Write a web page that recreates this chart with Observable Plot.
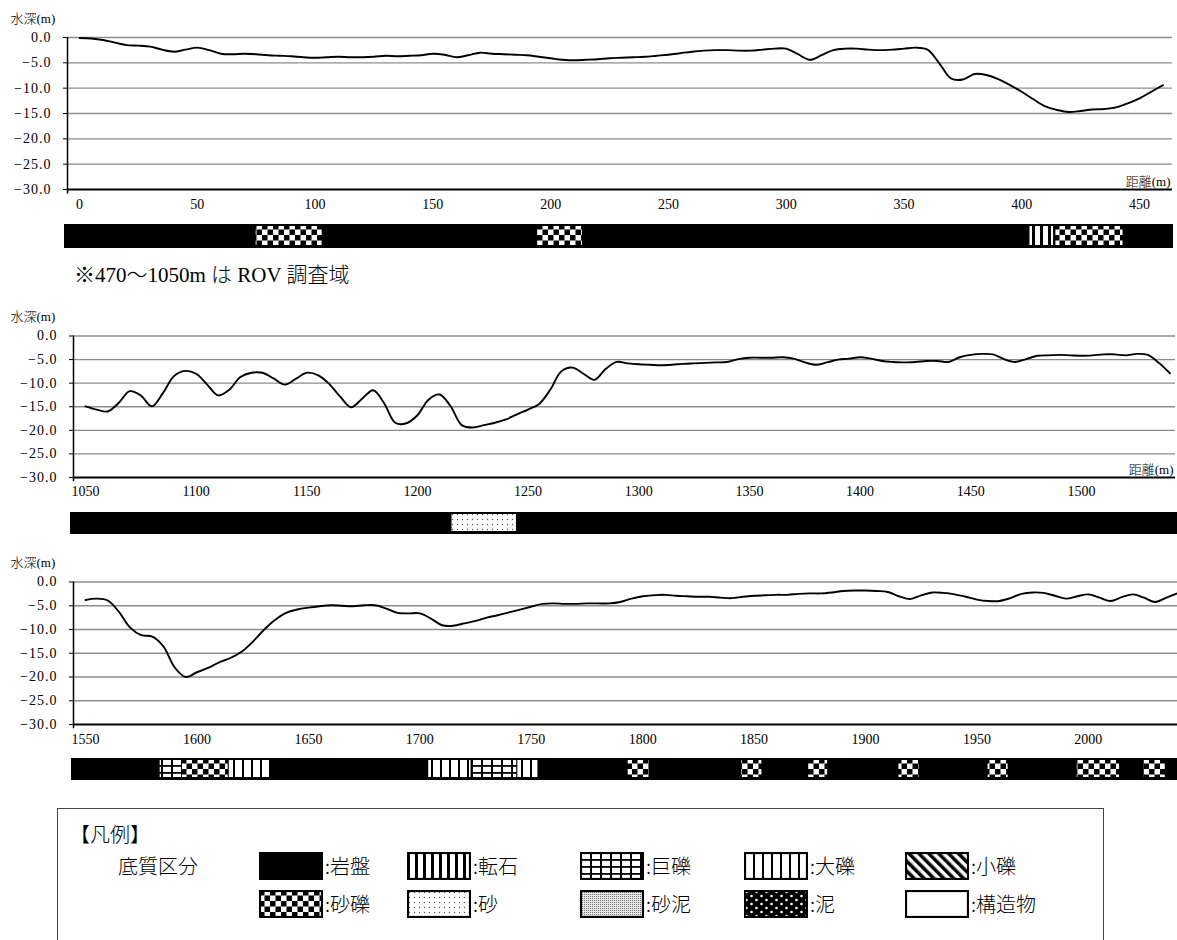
<!DOCTYPE html>
<html><head><meta charset="utf-8">
<script src="https://cdn.jsdelivr.net/npm/d3@7"></script>
<script src="https://cdn.jsdelivr.net/npm/@observablehq/plot@0.6"></script>
<style>
html,body{margin:0;padding:0;background:#fff;}
body{width:1177px;height:940px;overflow:hidden;position:relative;font-family:"Liberation Serif","Noto Sans CJK JP",serif;color:#000;}
.abs{position:absolute;}
svg text{font-weight:300;}
[aria-label^="x-axis"] text{font-size:14px !important;}
[aria-label^="y-axis"] text{font-size:14px !important;letter-spacing:1px;}
.note{font-family:"Liberation Serif","Noto Sans CJK JP",serif;font-size:21px;font-weight:300;white-space:nowrap;}
.lg{font-family:"Noto Sans CJK JP",sans-serif;font-size:20px;font-weight:300;white-space:nowrap;line-height:1;}
</style></head><body>
<svg width="0" height="0" style="position:absolute">
<defs>
<pattern id="p-tenseki" width="8" height="8" patternUnits="userSpaceOnUse">
 <rect width="8" height="8" fill="#fff"/><rect x="0" width="3" height="8" fill="#000"/>
</pattern>
<pattern id="p-kyoreki" width="10" height="7" patternUnits="userSpaceOnUse">
 <rect width="10" height="7" fill="#fff"/><rect width="2" height="7" fill="#000"/><rect width="10" height="1.8" fill="#000"/>
</pattern>
<pattern id="p-tairyoku" width="9" height="9" patternUnits="userSpaceOnUse">
 <rect width="9" height="9" fill="#fff"/><rect width="2" height="9" fill="#000"/>
</pattern>
<pattern id="p-shoreki" width="7" height="7" patternUnits="userSpaceOnUse" patternTransform="rotate(-45)">
 <rect width="7" height="7" fill="#fff"/><rect width="3.5" height="7" fill="#000"/>
</pattern>
<pattern id="p-sareki" width="11" height="11" patternUnits="userSpaceOnUse">
 <rect width="11" height="11" fill="#fff"/><rect width="5.5" height="5.5" fill="#000"/><rect x="5.5" y="5.5" width="5.5" height="5.5" fill="#000"/>
</pattern>
<pattern id="p-suna" width="5" height="5" patternUnits="userSpaceOnUse">
 <rect width="5" height="5" fill="#fff"/><circle cx="2.5" cy="2.5" r="0.7" fill="#555"/>
</pattern>
<pattern id="p-sadei" width="2" height="2" patternUnits="userSpaceOnUse">
 <rect width="2" height="2" fill="#e4e4e4"/><rect width="1" height="1" fill="#7a7a7a"/>
</pattern>
<pattern id="p-dei" width="10" height="8" patternUnits="userSpaceOnUse">
 <rect width="10" height="8" fill="#000"/><circle cx="2.5" cy="2" r="1.3" fill="#fff"/><circle cx="7.5" cy="6" r="1.3" fill="#fff"/>
</pattern>
</defs></svg>
<script>
// ---------------- data ----------------
const yTicks = [0, -5, -10, -15, -20, -25, -30];
const yGrid = [0, -5, -10, -15, -20, -25];
const yBase = [-30];

// Panel 1 : 0 - 460 m
const dist1 = [0,5,10,15,20,25,30,35,40,45,50,55,60,65,70,75,80,85,90,95,100,105,110,115,120,125,130,135,140,145,150,155,160,165,170,175,180,185,190,195,200,205,210,215,220,225,230,235,240,245,250,255,260,265,270,275,280,285,290,295,300,305,310,315,320,325,330,335,340,345,350,355,360,365,370,375,380,385,390,395,400,405,410,415,420,425,430,435,440,445,450,455,460];
const depth1 = [-0.1,-0.2,-0.5,-1.0,-1.5,-1.6,-1.8,-2.4,-2.8,-2.4,-2.0,-2.5,-3.2,-3.3,-3.2,-3.3,-3.5,-3.6,-3.7,-3.9,-4.0,-3.9,-3.8,-3.9,-3.9,-3.8,-3.6,-3.7,-3.6,-3.5,-3.2,-3.4,-3.9,-3.5,-3.0,-3.2,-3.3,-3.4,-3.5,-3.8,-4.1,-4.4,-4.5,-4.4,-4.3,-4.1,-4.0,-3.9,-3.8,-3.6,-3.4,-3.1,-2.8,-2.6,-2.5,-2.5,-2.6,-2.6,-2.4,-2.2,-2.2,-3.3,-4.4,-3.5,-2.5,-2.2,-2.2,-2.4,-2.5,-2.4,-2.2,-2.0,-2.4,-5.1,-8.1,-8.3,-7.2,-7.4,-8.2,-9.4,-10.7,-12.2,-13.6,-14.3,-14.7,-14.5,-14.2,-14.1,-13.8,-13.0,-12.0,-10.7,-9.4];
const xTicks1 = [0,50,100,150,200,250,300,350,400,450];
const segType1 = ["砂礫","砂礫","転石","砂礫"];
const segStart1 = [75, 194.5, 403.5, 414.5];
const segEnd1 = [103, 213.5, 413.5, 443];

// Panel 2 : 1050 - 1540 m
const dist2 = [1050,1055,1060,1065,1070,1075,1080,1085,1090,1095,1100,1105,1110,1115,1120,1125,1130,1135,1140,1145,1150,1155,1160,1165,1170,1175,1180,1185,1190,1195,1200,1205,1210,1215,1220,1225,1230,1235,1240,1245,1250,1255,1260,1265,1270,1275,1280,1285,1290,1295,1300,1305,1310,1315,1320,1325,1330,1335,1340,1345,1350,1355,1360,1365,1370,1375,1380,1385,1390,1395,1400,1405,1410,1415,1420,1425,1430,1435,1440,1445,1450,1455,1460,1465,1470,1475,1480,1485,1490,1495,1500,1505,1510,1515,1520,1525,1530,1535,1540];
const depth2 = [-14.9,-15.6,-16.0,-14.2,-11.7,-12.6,-14.9,-12.1,-8.5,-7.4,-8.0,-10.3,-12.6,-11.4,-8.7,-7.8,-7.8,-9.0,-10.3,-9.1,-7.8,-8.3,-10.1,-12.8,-15.1,-13.3,-11.5,-14.3,-18.4,-18.5,-16.8,-13.5,-12.4,-14.9,-18.9,-19.4,-18.9,-18.4,-17.7,-16.6,-15.6,-14.4,-11.4,-7.5,-6.7,-8.0,-9.3,-7.0,-5.5,-5.8,-6.0,-6.1,-6.2,-6.1,-5.9,-5.8,-5.7,-5.6,-5.5,-4.9,-4.6,-4.6,-4.6,-4.5,-4.8,-5.6,-6.1,-5.6,-5.0,-4.8,-4.5,-4.8,-5.3,-5.5,-5.6,-5.5,-5.3,-5.3,-5.5,-4.5,-4.0,-3.8,-3.9,-4.9,-5.5,-4.9,-4.2,-4.1,-4.0,-4.1,-4.2,-4.1,-3.9,-3.9,-4.1,-3.8,-4.0,-5.7,-7.9];
const xTicks2 = [1050,1100,1150,1200,1250,1300,1350,1400,1450,1500];
const segType2 = ["砂"];
const segStart2 = [1215];
const segEnd2 = [1244];

// Panel 3 : 1550 - 2040 m
const dist3 = [1550,1555,1560,1565,1570,1575,1580,1585,1590,1595,1600,1605,1610,1615,1620,1625,1630,1635,1640,1645,1650,1655,1660,1665,1670,1675,1680,1685,1690,1695,1700,1705,1710,1715,1720,1725,1730,1735,1740,1745,1750,1755,1760,1765,1770,1775,1780,1785,1790,1795,1800,1805,1810,1815,1820,1825,1830,1835,1840,1845,1850,1855,1860,1865,1870,1875,1880,1885,1890,1895,1900,1905,1910,1915,1920,1925,1930,1935,1940,1945,1950,1955,1960,1965,1970,1975,1980,1985,1990,1995,2000,2005,2010,2015,2020,2025,2030,2035,2040];
const depth3 = [-3.8,-3.5,-3.9,-6.3,-9.6,-11.2,-11.5,-13.6,-18.0,-20.0,-19.0,-18.1,-16.9,-16.0,-14.7,-12.6,-10.1,-8.0,-6.5,-5.8,-5.4,-5.1,-4.9,-5.0,-5.1,-4.9,-4.9,-5.6,-6.5,-6.6,-6.6,-7.7,-9.1,-9.2,-8.7,-8.2,-7.5,-7.0,-6.4,-5.8,-5.2,-4.6,-4.5,-4.6,-4.6,-4.5,-4.5,-4.5,-4.2,-3.5,-3.0,-2.8,-2.7,-2.9,-3.0,-3.1,-3.1,-3.3,-3.4,-3.1,-2.9,-2.8,-2.7,-2.7,-2.5,-2.4,-2.4,-2.2,-1.9,-1.8,-1.8,-1.9,-2.1,-3.0,-3.6,-2.8,-2.2,-2.3,-2.6,-3.1,-3.7,-4.0,-4.0,-3.4,-2.5,-2.2,-2.3,-2.9,-3.5,-3.0,-2.6,-3.3,-4.0,-3.2,-2.6,-3.3,-4.2,-3.3,-2.4];
const xTicks3 = [1550,1600,1650,1700,1750,1800,1850,1900,1950,2000];
const segType3 = ["巨礫","砂礫","大礫","大礫","巨礫","大礫","砂礫","砂礫","砂礫","砂礫","砂礫","砂礫","砂礫"];
const segStart3 = [1583.5,1593.5,1614.5,1704,1723.5,1744,1793.5,1844.5,1874.5,1915,1955,1995,2025];
const segEnd3 = [1593.5,1614,1633,1723,1743.5,1753,1803,1853.5,1883,1924,1964,2014,2034.5];

// Legend
const legendTypes = ["岩盤","転石","巨礫","大礫","小礫","砂礫","砂","砂泥","泥","構造物"];

// ---------------- styles ----------------
const fills = {
  "岩盤": "#000", "転石": "url(#p-tenseki)", "巨礫": "url(#p-kyoreki)", "大礫": "url(#p-tairyoku)",
  "小礫": "url(#p-shoreki)", "砂礫": "url(#p-sareki)", "砂": "url(#p-suna)", "砂泥": "url(#p-sadei)",
  "泥": "url(#p-dei)", "構造物": "#fff"
};
const FONT = '"Liberation Serif","Noto Sans CJK JP",serif';
const W = 1177;
const fmtY = d => (d < 0 ? "\u2212" : "") + Math.abs(d).toFixed(1);

function place(node, left, top) {
  const div = document.createElement("div");
  div.className = "abs";
  div.style.left = left + "px";
  div.style.top = top + "px";
  div.appendChild(node);
  document.body.appendChild(div);
}

function depthPanel(cfg) {
  const data = cfg.dist.map((d, i) => ({d, z: cfg.depth[i]}));
  const marks = [
    Plot.ruleY(yGrid, {stroke: "#8c8c8c", strokeWidth: 1.3}),
    Plot.ruleY(yBase, {stroke: "#000", strokeWidth: 2}),
    Plot.ruleX([cfg.domain[0]], {y1: -30.9, y2: 0, stroke: "#000", strokeWidth: 1.5}),
    Plot.line(data, {x: "d", y: "z", curve: "catmull-rom", stroke: "#000", strokeWidth: 1.9}),
    Plot.text(["水深(m)"], {frameAnchor: "top-left", dx: cfg.ylabDx, dy: -19, textAnchor: "start", lineAnchor: "middle", fontSize: 13})
  ];
  if (cfg.distLabel) marks.push(Plot.text(["距離(m)"], {frameAnchor: "bottom-right", dx: -2, dy: -8, textAnchor: "end", lineAnchor: "middle", fontSize: 13}));
  const p = Plot.plot({
    width: W, height: cfg.height,
    marginLeft: cfg.mL, marginRight: cfg.mR, marginTop: cfg.mT, marginBottom: cfg.mB,
    style: {fontFamily: FONT, fontSize: "14px", color: "#000", background: "transparent", overflow: "visible"},
    x: {domain: cfg.domain, ticks: cfg.xTicks, tickSize: 0, tickPadding: cfg.xPad, tickFormat: d => String(d), label: null},
    y: {domain: [-30, 0], ticks: yTicks, tickSize: 4, tickPadding: cfg.yPad, tickFormat: fmtY, label: null},
    marks
  });
  place(p, 0, cfg.top);
}

function barPanel(cfg) {
  const k = (W - cfg.mL - cfg.mR) / (cfg.domain[1] - cfg.domain[0]);
  const bd = [cfg.domain[0] - (cfg.mL - cfg.barL) / k, cfg.domain[1] + ((W - cfg.mR) - cfg.barR) / k];
  const segs = cfg.segType.map((t, i) => ({type: t, start: cfg.segStart[i], end: cfg.segEnd[i]}));
  const p = Plot.plot({
    width: cfg.barR - cfg.barL, height: cfg.barH, margin: 0,
    style: {background: "transparent", overflow: "visible"},
    x: {domain: bd, axis: null},
    color: {type: "identity"},
    marks: [
      Plot.frame({fill: "#000", stroke: "#000"}),
      Plot.rect(segs, {x1: "start", x2: "end", fill: d => fills[d.type], insetTop: 2, insetBottom: 2})
    ]
  });
  place(p, cfg.barL, cfg.barTop);
}

const panels = [
  {dist: dist1, depth: depth1, xTicks: xTicks1, domain: [-5.1, 464], top: 0, height: 215, mL: 67, mR: 5, mT: 37, mB: 26,
   xPad: 10, yPad: 12, ylabDx: -57, distLabel: true,
   segType: segType1, segStart: segStart1, segEnd: segEnd1, barL: 64, barR: 1172, barTop: 224, barH: 23},
  {dist: dist2, depth: depth2, xTicks: xTicks2, domain: [1044.6, 1542.5], top: 298, height: 205, mL: 73, mR: 2, mT: 37.5, mB: 26,
   xPad: 9, yPad: 12, ylabDx: -63, distLabel: true,
   segType: segType2, segStart: segStart2, segEnd: segEnd2, barL: 70, barR: 1177, barTop: 512, barH: 21},
  {dist: dist3, depth: depth3, xTicks: xTicks3, domain: [1544.6, 2040], top: 544, height: 206, mL: 73, mR: 0, mT: 37.5, mB: 26,
   xPad: 10, yPad: 12, ylabDx: -63, distLabel: false,
   segType: segType3, segStart: segStart3, segEnd: segEnd3, barL: 71, barR: 1177, barTop: 758, barH: 21}
];
panels.forEach(c => { depthPanel(c); barPanel(c); });

// note
const note = document.createElement("div");
note.className = "abs note";
note.style.left = "74px"; note.style.top = "258px";
note.textContent = "※470～1050m は ROV 調査域";
document.body.appendChild(note);

// legend
const box = document.createElement("div");
box.className = "abs";
Object.assign(box.style, {left: "57px", top: "808px", width: "1047px", height: "140px", border: "1px solid #444", boxSizing: "border-box"});
document.body.appendChild(box);
function lgText(txt, left, cy) {
  const t = document.createElement("div");
  t.className = "abs lg";
  t.style.left = left + "px"; t.style.top = (cy - 10) + "px";
  t.textContent = txt;
  document.body.appendChild(t);
}
lgText("【凡例】", 70, 834);
lgText("底質区分", 118, 866);
const colX = [259, 407, 580, 744, 905];
const rowTop = [852, 890];
legendTypes.forEach((t, i) => {
  const col = i % 5, row = Math.floor(i / 5);
  const sw = d3.create("svg").attr("width", 64).attr("height", 28);
  sw.append("rect").attr("x", 1).attr("y", 1).attr("width", 62).attr("height", 26)
    .attr("fill", fills[t]).attr("stroke", "#000").attr("stroke-width", 2.2);
  place(sw.node(), colX[col], rowTop[row]);
  lgText(":" + t, colX[col] + 66, rowTop[row] + 14);
});
</script>
</body></html>
